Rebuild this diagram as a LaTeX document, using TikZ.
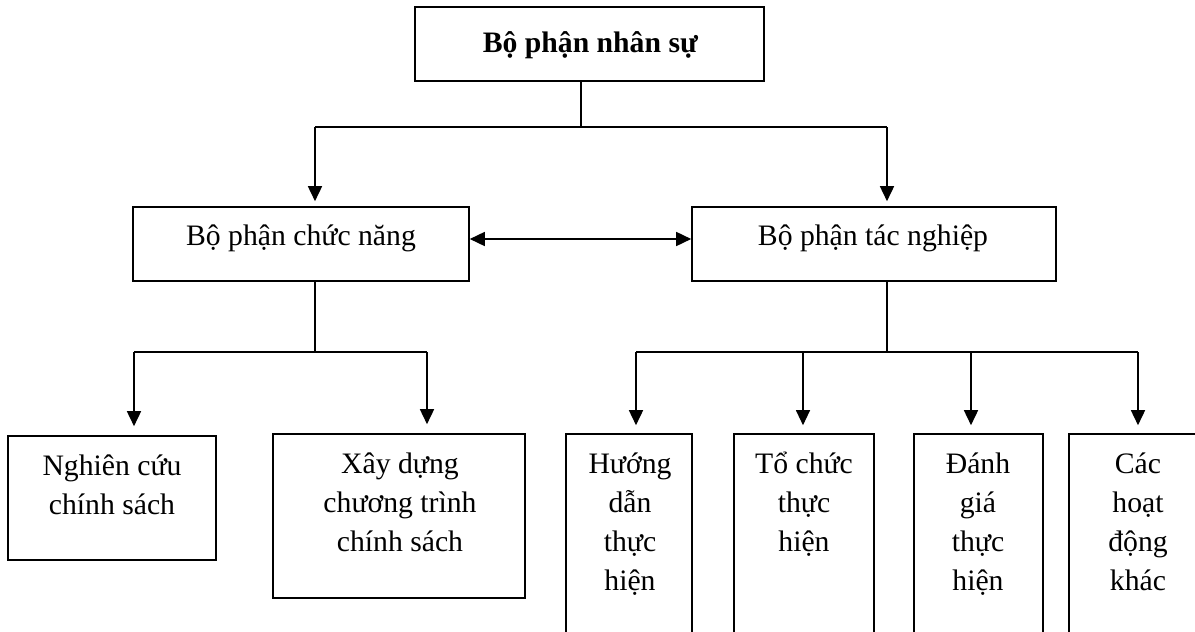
\documentclass[tikz,border=0pt]{standalone}
\usepackage{fontspec}
\setmainfont{Liberation Serif}
\usetikzlibrary{arrows.meta}
\tikzset{
  box/.style={draw, line width=1.6pt, inner sep=0pt},
  txt/.style={font=\fontsize{29.7}{39}\selectfont, inner sep=0pt, anchor=base},
  ln/.style={line width=1.6pt},
  arr/.style={line width=1.6pt, -{Triangle[width=14pt,length=15pt]}},
  thinarr/.style={line width=1.1pt, -{Triangle[width=14pt,length=15pt]}},
  darr/.style={line width=1.6pt, {Triangle[width=14pt,length=15pt]}-{Triangle[width=14pt,length=15pt]}}
}
\begin{document}
\begin{tikzpicture}[x=1pt,y=-1pt]
\clip (0,0) rectangle (1195,632);
\fill[white] (0,0) rectangle (1195,632);
% boxes
\node[box, minimum width=349pt, minimum height=74pt] (top) at (589.5,44) {};
\node[box, minimum width=336pt, minimum height=74pt] (left) at (301,244) {};
\node[box, minimum width=364pt, minimum height=74pt] (right) at (874,244) {};
\node[box, minimum width=208pt, minimum height=124pt] (b1) at (112,498) {};
\node[box, minimum width=252pt, minimum height=164pt] (b2) at (399,516) {};
\node[box, minimum width=126pt, minimum height=220pt] (r1) at (629,544) {};
\node[box, minimum width=140pt, minimum height=220pt] (r2) at (804,544) {};
\node[box, minimum width=129pt, minimum height=220pt] (r3) at (978.5,544) {};
\node[box, minimum width=138pt, minimum height=220pt] (r4) at (1138,544) {};
% texts
\node[txt] (ttop) at (590.5,52) {\textbf{Bộ phận nhân sự}};
\node[txt] (tleft) at (301,245) {Bộ phận chức năng};
\node[txt] (tright) at (873,245) {Bộ phận tác nghiệp};
\node[txt] (tb1) at (112,475) {\begin{tabular}[t]{@{}c@{}}Nghiên cứu\\chính sách\end{tabular}};
\node[txt] (tb2) at (400,473) {\begin{tabular}[t]{@{}c@{}}Xây dựng\\chương trình\\chính sách\end{tabular}};
\node[txt] (tr1) at (630,473) {\begin{tabular}[t]{@{}c@{}}Hướng\\dẫn\\thực\\hiện\end{tabular}};
\node[txt] (tr2) at (804,473) {\begin{tabular}[t]{@{}c@{}}Tổ chức\\thực\\hiện\end{tabular}};
\node[txt] (tr3) at (978,473) {\begin{tabular}[t]{@{}c@{}}Đánh\\giá\\thực\\hiện\end{tabular}};
\node[txt] (tr4) at (1138,473) {\begin{tabular}[t]{@{}c@{}}Các\\hoạt\\động\\khác\end{tabular}};
% junctions
\coordinate (j1) at (581,127);
\coordinate (j1l) at (315,127);
\coordinate (j1r) at (887,127);
\coordinate (dy) at (0,239);
\coordinate (j2) at (315,352);
\coordinate (j2l) at (134,352);
\coordinate (j2r) at (427,352);
\coordinate (j3) at (887,352);
\coordinate (j3a) at (636,352);
\coordinate (j3b) at (803,352);
\coordinate (j3c) at (971,352);
\coordinate (j3d) at (1138,352);
% connectors
\draw[ln] (j1 |- top.south) -- (j1);
\draw[ln] (j1l) -- (j1r);
\draw[arr, shorten >=5pt] (j1l) -- (j1l |- left.north);
\draw[arr, shorten >=5pt] (j1r) -- (j1r |- right.north);
\draw[darr] (left.east |- dy) -- (right.west |- dy);
\draw[ln] (j2 |- left.south) -- (j2);
\draw[ln] (j2l) -- (j2r);
\draw[arr, shorten >=9pt] (j2l) -- (j2l |- b1.north);
\draw[arr, shorten >=9pt] (j2r) -- (j2r |- b2.north);
\draw[ln] (j3 |- right.south) -- (j3);
\draw[ln] (j3a) -- (j3d);
\draw[arr, shorten >=8pt] (j3a) -- (j3a |- r1.north);
\draw[thinarr, shorten >=8pt] (j3b) -- (j3b |- r2.north);
\draw[arr, shorten >=8pt] (j3c) -- (j3c |- r3.north);
\draw[arr, shorten >=8pt] (j3d) -- (j3d |- r4.north);
\end{tikzpicture}
\end{document}
